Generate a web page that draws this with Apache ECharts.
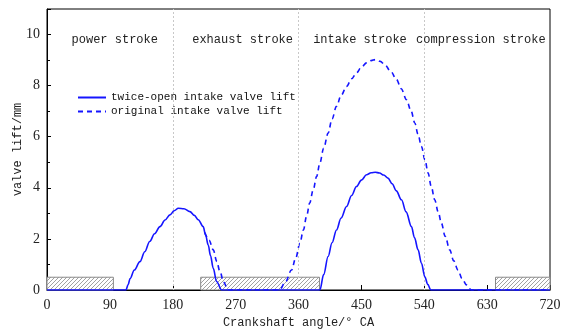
<!DOCTYPE html>
<html><head><meta charset="utf-8">
<script src="https://cdn.jsdelivr.net/npm/echarts@6/dist/echarts.min.js"></script>
<style>html,body{margin:0;padding:0;background:#fff}#c{width:561px;height:331px}</style>
</head><body><div id="c"></div>
<script>
const xTicks = [0, 90, 180, 270, 360, 450, 540, 630, 720];
const strokeNames = ['power stroke', 'exhaust stroke', 'intake stroke', 'compression stroke'];
const strokeCenters = [97, 280, 448, 621];
const strokeDividers = [180, 360, 540];
// twice-open intake valve lift [crank angle, lift mm]
const twiceOpen = [[0,0],[113,0],[116,0.2],[119,0.45],[125,0.78],[133,1.11],[140,1.5],[147,1.9],[154,2.2],[161.7,2.48],[169,2.74],[176,2.94],[182,3.1],[188,3.2],[196,3.18],[204.6,3.07],[211,2.92],[216.5,2.75],[223.6,2.48],[227,2.15],[230.8,1.76],[234,1.35],[238,0.85],[242.7,0.33],[250,0],
  [390.6,0],[396,0.6],[402.4,1.31],[408,1.85],[414.4,2.35],[421,2.82],[428.8,3.27],[436,3.7],[443,4.05],[450,4.3],[457.4,4.51],[464,4.59],[470,4.61],[476,4.58],[482,4.5],[488,4.38],[494,4.16],[500,3.88],[507.4,3.53],[514,3.06],[521.7,2.48],[526,2.05],[531.2,1.57],[536,1.05],[540.8,0.52],[545,0.22],[549.4,0],[720,0]];
// original intake valve lift
const original = [[226,2.25],[232,1.95],[238,1.57],[243,1.12],[247.5,0.72],[253,0.3],[259,0],[333,0],[341,0.3],[350,0.78],[356,1.25],[362,1.83],[367,2.35],[371.5,2.88],[376,3.4],[381,3.92],[386,4.45],[390.6,4.97],[396,5.55],[402.4,6.14],[408,6.7],[414.4,7.19],[421,7.62],[428.8,7.97],[436,8.27],[443,8.5],[450,8.72],[457.4,8.89],[464,8.98],[470,9.02],[477,8.95],[483.5,8.82],[492,8.56],[500.3,8.24],[507,7.88],[514.6,7.45],[521,7.02],[526.5,6.54],[531,6.1],[536,5.62],[541,5.1],[545.5,4.58],[550,4.05],[555,3.53],[560,3.05],[564.6,2.61],[570,2.1],[576.5,1.57],[582,1.15],[588.4,0.78],[594,0.45],[600.4,0.2],[607.6,0],[720,0]];
// hatched blocks [start, end, height]
const hatched = [[0,95,0.5],[220,390,0.5],[642,720,0.5]];
const legendNames = ['twice-open intake valve lift', 'original intake valve lift'];

const pc = document.createElement('canvas');
pc.width = 4; pc.height = 4;
const pctx = pc.getContext('2d');
pctx.fillStyle = '#fff'; pctx.fillRect(0,0,4,4);
pctx.strokeStyle = '#8a8a8a'; pctx.lineWidth = 0.8;
pctx.beginPath();
pctx.moveTo(0,4); pctx.lineTo(4,0);
pctx.moveTo(-1,1); pctx.lineTo(1,-1);
pctx.moveTo(3,5); pctx.lineTo(5,3);
pctx.stroke();

const chart = echarts.init(document.getElementById('c'), null, {renderer:'canvas'});
const mono = 'Liberation Mono';
const serif = 'Liberation Serif';
const blue = '#1515ff';
chart.setOption({
  animation: false,
  backgroundColor: '#fff',
  grid: {left: 47, right: 11, top: 9, bottom: 41, show: true, borderColor: '#000', borderWidth: 1,
    containLabel: false, outerBoundsMode: 'none'},
  legend: {
    orient: 'vertical', left: 72, top: 87, itemWidth: 28, itemHeight: 10, itemGap: 3,
    itemStyle: {opacity: 0},
    textStyle: {fontFamily: mono, fontSize: 11, color: '#111'},
    data: legendNames
  },
  xAxis: {
    type: 'value', min: 0, max: 720, interval: 90,
    name: 'Crankshaft angle/° CA', nameLocation: 'middle', nameGap: 27,
    nameTextStyle: {fontFamily: mono, fontSize: 12, color: '#222'},
    axisLine: {lineStyle: {color: '#000', width: 1}},
    axisTick: {inside: true, length: 5, lineStyle: {color: '#000'}},
    axisLabel: {fontFamily: serif, fontSize: 14, color: '#222', margin: 8},
    splitLine: {show: false}
  },
  yAxis: {
    type: 'value', min: 0, max: 11, interval: 2,
    name: 'valve lift/mm', nameLocation: 'middle', nameGap: 23, nameMoveOverlap: false,
    nameTextStyle: {fontFamily: mono, fontSize: 12, color: '#222'},
    axisLine: {show: true, lineStyle: {color: '#000', width: 1}},
    axisTick: {inside: true, length: 4, lineStyle: {color: '#000'}},
    minorTick: {show: true, splitNumber: 2, length: 3, lineStyle: {color: '#000'}},
    axisLabel: {fontFamily: serif, fontSize: 14, color: '#222', margin: 7, showMaxLabel: false,
      formatter: v => (v === 11 ? '' : String(v))},
    splitLine: {show: false}
  },
  graphic: strokeNames.map((t, i) => ({
    type: 'text', z: 100,
    style: {text: t, fontFamily: mono, fontSize: 12, fill: '#222', align: 'center', verticalAlign: 'middle'},
    x: 47 + strokeCenters[i] * 503 / 720, y: 40
  })),
  series: [
    {
      type: 'custom', name: 'hatch', z: 1, silent: true,
      data: hatched,
      renderItem: (params, api) => {
        const p0 = api.coord([api.value(0), 0]);
        const p1 = api.coord([api.value(1), api.value(2)]);
        return {type: 'rect',
          shape: {x: p0[0], y: p1[1], width: p1[0] - p0[0], height: p0[1] - p1[1]},
          style: {fill: {image: pc, repeat: 'repeat'}, stroke: '#888', lineWidth: 1}};
      }
    },
    {
      type: 'line', name: legendNames[0], data: twiceOpen, symbol: 'none', z: 5,
      smooth: 0.35, smoothMonotone: 'x',
      lineStyle: {color: blue, width: 1.6}, itemStyle: {color: blue},
      markLine: {
        silent: true, symbol: 'none', label: {show: false},
        lineStyle: {color: '#c8c8c8', type: [2, 2], width: 1},
        data: strokeDividers.map(v => ({xAxis: v}))
      }
    },
    {
      type: 'line', name: legendNames[1], data: original, symbol: 'none', z: 4,
      smooth: 0.35, smoothMonotone: 'x',
      lineStyle: {color: blue, width: 1.6, type: [5, 4]}, itemStyle: {color: blue}
    }
  ]
});
</script></body></html>
